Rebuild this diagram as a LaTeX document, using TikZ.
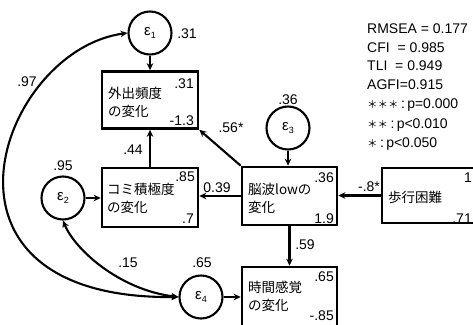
\documentclass[tikz,border=0pt]{standalone}
\usepackage{fontspec}
\setmainfont{Liberation Sans}
\newfontfamily\jp{Noto Sans CJK JP}
\usetikzlibrary{arrows.meta}
\begin{document}
\begin{tikzpicture}[x=1pt,y=-1pt,
 box/.style={draw, line width=2.6pt, minimum width=96pt, minimum height=57pt, inner sep=0},
 err/.style={draw, circle, line width=2.1pt, minimum size=43pt, inner sep=0, font=\fontsize{15}{15}\selectfont},
 arr/.style={line width=2.1pt, -{Stealth[length=7pt,width=6.5pt]}},
 darr/.style={line width=2.1pt, {Stealth[length=7pt,width=6.5pt]}-{Stealth[length=7pt,width=6.5pt]}},
 lab/.style={font=\fontsize{14}{14}\selectfont, inner sep=0},
 num/.style={font=\fontsize{14}{14}\selectfont, inner sep=0, anchor=base east},
 txt/.style={font=\jp\fontsize{13.5}{18}\selectfont, align=left, anchor=west, inner sep=0},
 fit/.style={font=\fontsize{14}{14}\selectfont, inner sep=0, anchor=base west}]
\useasboundingbox (0,0) rectangle (473,324);
\newcommand{\eps}[1]{ε\raisebox{-2.5pt}{\fontsize{9}{9}\selectfont #1}}
\newcommand{\sigstars}[1]{{\jp\fontsize{10.5}{10.5}\selectfont #1}\,:\,}
% boxes
\node[box] (b1) at (150,100) {};
\node[box, minimum height=59pt] (b2) at (150,197.5) {};
\node[box, minimum width=95pt, minimum height=58pt] (b3) at (289.5,196) {};
\node[box, minimum width=95pt, minimum height=55pt] (b4) at (429.5,195.5) {};
\node[box, minimum width=95pt, minimum height=60pt] (b5) at (289.5,297) {};
% box texts
\node[txt] (t1) at (108,102) {外出頻度\\の変化};
\node[txt] (t2) at (107,198) {コミ積極度\\の変化};
\node[txt] (t3) at (248,198.5) {脳波lowの\\変化};
\node[txt] (t4) at (388,197) {歩行困難};
\node[txt] (t5) at (248,296) {時間感覚\\の変化};
% box numbers
\node[num] (n1a) at (194,88) {.31};
\node[num] (n1b) at (194,125) {-1.3};
\node[num] (n2a) at (195,181) {.85};
\node[num] (n2b) at (194,223) {.7};
\node[num] (n3a) at (334,182) {.36};
\node[num] (n3b) at (334,223) {1.9};
\node[num] (n4a) at (472,182) {1};
\node[num] (n4b) at (472,223) {.71};
\node[num] (n5a) at (334,281) {.65};
\node[num] (n5b) at (334,320) {-.85};
% error circles
\node[err] (e1) at (150,33) {\eps{1}};
\node[err] (e2) at (63,198) {\eps{2}};
\node[err] (e3) at (288,128) {\eps{3}};
\node[err] (e4) at (201,297) {\eps{4}};
% outer labels
\node[lab] (l1) at (187,34) {.31};
\node[lab] (l2) at (27,82) {.97};
\node[lab] (l3) at (133,150) {.44};
\node[lab] (l4) at (231,128) {.56*};
\node[lab] (l5) at (63,166) {.95};
\node[lab] (l6) at (217,188) {0.39};
\node[lab] (l7) at (128,263) {.15};
\node[lab] (l8) at (202,263) {.65};
\node[lab] (l9) at (288,100) {.36};
\node[lab] (l10) at (369,187) {-.8*};
\node[lab] (l11) at (305,245) {.59};
% fit statistics
\node[fit] (f1) at (367,33) {RMSEA = 0.177};
\node[fit] (f2) at (367,52) {CFI \ = 0.985};
\node[fit] (f3) at (367,70) {TLI \ = 0.949};
\node[fit] (f4) at (367,89) {AGFI=0.915};
\node[fit] (f5) at (367,108) {\sigstars{＊＊＊}p=0.000};
\node[fit] (f6) at (367,128) {\sigstars{＊＊}p<0.010};
\node[fit] (f7) at (367,147) {\sigstars{＊}p<0.050};
% arrows
\draw[arr] (e1) -- (b1);
\draw[arr] (b2) -- (b1);
\draw[arr] (b3.north west) -- (b1.south east);
\draw[arr] (b3.west) -- (b2.east |- b3.west);
\draw[arr] (e3) -- (e3 |- b3.north);
\draw[arr] (b4.west) -- (b3.east |- b4.west);
\draw[arr] (b3) -- (b5);
\draw[arr] (e2) -- (e2 -| b2.west);
\draw[arr] (e4) -- (e4 -| b5.west);
% covariances
\draw[darr] (e1.west) .. controls (0,50) and (-90,300) .. (e4.west);
\draw[darr] (e2.south) .. controls (75,250) and (120,290) .. (e4.west);
\end{tikzpicture}
\end{document}
